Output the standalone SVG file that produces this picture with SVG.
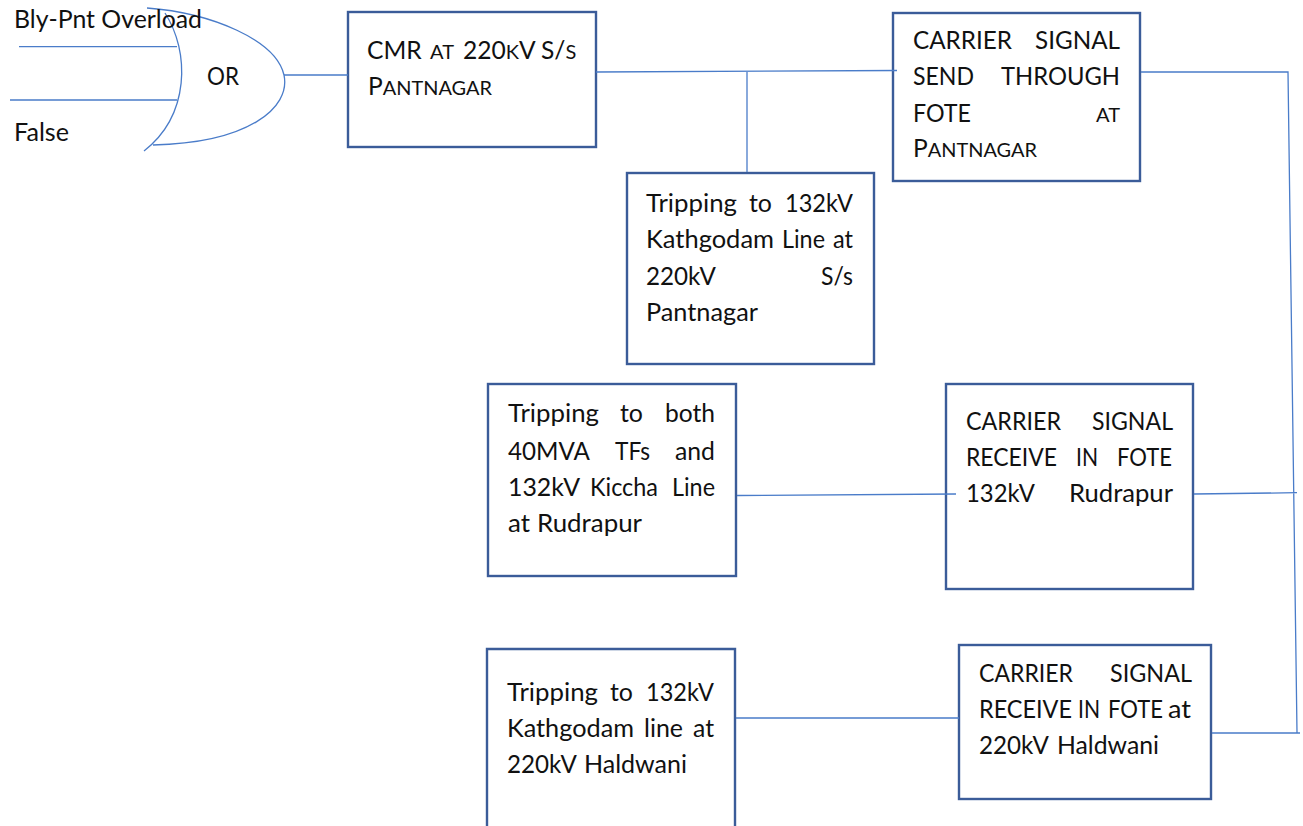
<svg xmlns="http://www.w3.org/2000/svg" width="1303" height="826" viewBox="0 0 1303 826">
<style>
text{font-family:"Lato","Open Sans","Liberation Sans",sans-serif;font-size:24.6px;fill:#111;lengthAdjust:spacingAndGlyphs}
.s{font-size:20px}
.box{fill:#fff;stroke:#3b5c99;stroke-width:2.4}
.c{fill:none;stroke:#4a7cc9;stroke-width:1.3}
</style>
<rect width="1303" height="826" fill="#fff"/>
<g id="or-gate">
<path class="c" d="M147 8C212 13 276 40 284 75C291 108 248 143 153 145"/>
<path class="c" d="M165 13C190 52 190 115 144 151"/>
<text x="207" y="85" textLength="32" lengthAdjust="spacingAndGlyphs">OR</text>
</g>
<g id="input-labels">
<text x="14" y="28" textLength="188" lengthAdjust="spacingAndGlyphs">Bly-Pnt Overload</text>
<text x="14" y="141" textLength="55" lengthAdjust="spacingAndGlyphs">False</text>
</g>
<g id="n-cmr">
<rect class="box" x="348" y="12" width="248" height="135"/>
<text x="367" y="59">CMR</text><text class="s" x="430" y="59" textLength="24" lengthAdjust="spacingAndGlyphs">AT</text><text x="463" y="59">220<tspan class="s">K</tspan>V</text><text x="541" y="59">S/<tspan class="s">S</tspan></text>
<text x="368" y="95" textLength="124" lengthAdjust="spacingAndGlyphs">P<tspan class="s">ANTNAGAR</tspan></text>
</g>
<g id="n-send">
<rect class="box" x="893" y="13" width="247" height="168"/>
<text x="913" y="49" textLength="99" lengthAdjust="spacingAndGlyphs">CARRIER</text><text x="1035" y="49" textLength="85" lengthAdjust="spacingAndGlyphs">SIGNAL</text>
<text x="913" y="85" textLength="61" lengthAdjust="spacingAndGlyphs">SEND</text><text x="1001" y="85" textLength="119" lengthAdjust="spacingAndGlyphs">THROUGH</text>
<text x="913" y="122" textLength="58" lengthAdjust="spacingAndGlyphs">FOTE</text><text class="s" x="1096" y="122" textLength="24" lengthAdjust="spacingAndGlyphs">AT</text>
<text x="913" y="157" textLength="124" lengthAdjust="spacingAndGlyphs">P<tspan class="s">ANTNAGAR</tspan></text>
</g>
<g id="n-trip-pant">
<rect class="box" x="627" y="173" width="247" height="191"/>
<text x="646" y="212" textLength="91" lengthAdjust="spacingAndGlyphs">Tripping</text><text x="749" y="212" textLength="23" lengthAdjust="spacingAndGlyphs">to</text><text x="785" y="212" textLength="68" lengthAdjust="spacingAndGlyphs">132kV</text>
<text x="646" y="248" textLength="128" lengthAdjust="spacingAndGlyphs">Kathgodam</text><text x="782" y="248" textLength="43" lengthAdjust="spacingAndGlyphs">Line</text><text x="833" y="248" textLength="20" lengthAdjust="spacingAndGlyphs">at</text>
<text x="646" y="285" textLength="70" lengthAdjust="spacingAndGlyphs">220kV</text><text x="821" y="285" textLength="32" lengthAdjust="spacingAndGlyphs">S/s</text>
<text x="646" y="321" textLength="112" lengthAdjust="spacingAndGlyphs">Pantnagar</text>
</g>
<g id="n-trip-rud">
<rect class="box" x="488" y="384" width="248" height="192"/>
<text x="508" y="422" textLength="91" lengthAdjust="spacingAndGlyphs">Tripping</text><text x="620" y="422" textLength="23" lengthAdjust="spacingAndGlyphs">to</text><text x="665" y="422" textLength="50" lengthAdjust="spacingAndGlyphs">both</text>
<text x="508" y="460" textLength="82" lengthAdjust="spacingAndGlyphs">40MVA</text><text x="615" y="460" textLength="35" lengthAdjust="spacingAndGlyphs">TFs</text><text x="675" y="460" textLength="40" lengthAdjust="spacingAndGlyphs">and</text>
<text x="508" y="496" textLength="72" lengthAdjust="spacingAndGlyphs">132kV</text><text x="590" y="496" textLength="68" lengthAdjust="spacingAndGlyphs">Kiccha</text><text x="672" y="496" textLength="43" lengthAdjust="spacingAndGlyphs">Line</text>
<text x="508" y="532" textLength="22" lengthAdjust="spacingAndGlyphs">at</text><text x="537" y="532" textLength="105" lengthAdjust="spacingAndGlyphs">Rudrapur</text>
</g>
<g id="n-recv-rud">
<rect class="box" x="946" y="384" width="247" height="205"/>
<text x="966" y="430" textLength="95" lengthAdjust="spacingAndGlyphs">CARRIER</text><text x="1092" y="430" textLength="81" lengthAdjust="spacingAndGlyphs">SIGNAL</text>
<text x="966" y="466" textLength="91" lengthAdjust="spacingAndGlyphs">RECEIVE</text><text x="1076" y="466" textLength="22" lengthAdjust="spacingAndGlyphs">IN</text><text x="1117" y="466" textLength="55" lengthAdjust="spacingAndGlyphs">FOTE</text>
<text x="966" y="502" textLength="69" lengthAdjust="spacingAndGlyphs">132kV</text><text x="1069" y="502" textLength="104" lengthAdjust="spacingAndGlyphs">Rudrapur</text>
</g>
<g id="n-trip-hal">
<path class="box" d="M487 826V649H735V826"/>
<text x="507" y="701" textLength="91" lengthAdjust="spacingAndGlyphs">Tripping</text><text x="610" y="701" textLength="23" lengthAdjust="spacingAndGlyphs">to</text><text x="646" y="701" textLength="68" lengthAdjust="spacingAndGlyphs">132kV</text>
<text x="507" y="737" textLength="127" lengthAdjust="spacingAndGlyphs">Kathgodam</text><text x="644" y="737" textLength="39" lengthAdjust="spacingAndGlyphs">line</text><text x="693" y="737" textLength="21" lengthAdjust="spacingAndGlyphs">at</text>
<text x="507" y="773" textLength="70" lengthAdjust="spacingAndGlyphs">220kV</text><text x="584" y="773" textLength="103" lengthAdjust="spacingAndGlyphs">Haldwani</text>
</g>
<g id="n-recv-hal">
<rect class="box" x="959" y="645" width="252" height="154"/>
<text x="979" y="682" textLength="94" lengthAdjust="spacingAndGlyphs">CARRIER</text><text x="1110" y="682" textLength="82" lengthAdjust="spacingAndGlyphs">SIGNAL</text>
<text x="979" y="718" textLength="93" lengthAdjust="spacingAndGlyphs">RECEIVE</text><text x="1078" y="718" textLength="22" lengthAdjust="spacingAndGlyphs">IN</text><text x="1108" y="718" textLength="55" lengthAdjust="spacingAndGlyphs">FOTE</text><text x="1168" y="718" textLength="23" lengthAdjust="spacingAndGlyphs">at</text>
<text x="979" y="754" textLength="70" lengthAdjust="spacingAndGlyphs">220kV</text><text x="1057" y="754" textLength="102" lengthAdjust="spacingAndGlyphs">Haldwani</text>
</g>
<g id="connectors">
<path class="c" d="M19 46.700H177M10 100H177M284 75H348"/>
<path class="c" d="M596 72L897 70.500M747 71.500V172M1141 72H1288L1297 733M1194 494L1297 492.700M737 495.500L956 494M736 718H959M1212 733H1300"/>
</g>
</svg>
